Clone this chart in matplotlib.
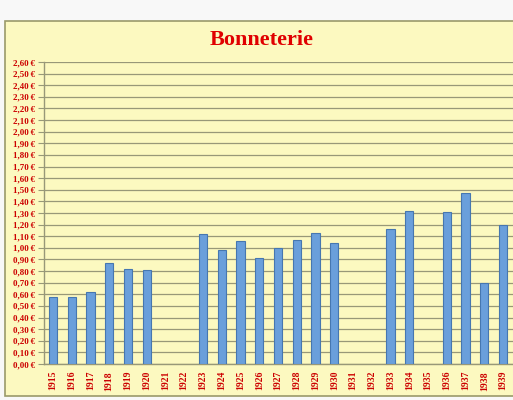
import matplotlib
matplotlib.use("Agg")
import matplotlib.pyplot as plt
from matplotlib.patches import Rectangle
import numpy as np

years = [str(y) for y in range(1915, 1940)]
values = [0.58, 0.58, 0.62, 0.87, 0.82, 0.81, np.nan, np.nan, 1.12, 0.98,
          1.06, 0.91, 1.00, 1.07, 1.13, 1.04, np.nan, np.nan, 1.16, 1.32,
          np.nan, 1.31, 1.47, 0.70, 1.20]
yticks = [i / 10 for i in range(0, 27)]
ytick_labels = [f"{v:.2f}".replace(".", ",") + "\u2009€" for v in yticks]
title = "Bonneterie"

W, H = 513, 400
fig = plt.figure(figsize=(W / 100, H / 100), dpi=100)
fig.patch.set_facecolor("#F8F8F8")

# chart frame
fig.patches.append(Rectangle((5 / W, 4 / H), 1.2, (396 - 21) / H,
                             transform=fig.transFigure, facecolor="#FCF9C0",
                             edgecolor="#9A9A6A", linewidth=1.2, zorder=-5))

ax = fig.add_axes([43.5 / W, (H - 364) / H, (512.5 - 43.5) / W, (364 - 62) / H])
ax.set_zorder(2)
ax.patch.set_alpha(0)
x = np.arange(len(years))
ax.bar(x, values, width=0.44, color="#6A9FDB", edgecolor="#4677B0", linewidth=0.8, zorder=3)
ax.set_xlim(-0.5, len(years) - 0.5)
ax.set_ylim(0, 2.6)
ax.set_yticks(yticks)
ax.set_yticklabels(ytick_labels)
ax.set_xticks(x)
ax.set_xticklabels(years, rotation=90)
ax.grid(axis="y", color="#989878", linewidth=0.9, zorder=0)
ax.set_axisbelow(True)
for s in ["top", "right"]:
    ax.spines[s].set_visible(False)
for s in ["left", "bottom"]:
    ax.spines[s].set_color("#989878")
    ax.spines[s].set_linewidth(1.0)
ax.tick_params(axis="y", length=4, color="#989878", pad=2)
ax.tick_params(axis="x", length=0, pad=5)
for lab in ax.get_yticklabels() + ax.get_xticklabels():
    lab.set_fontfamily(["Liberation Serif", "DejaVu Serif"])
    lab.set_fontweight("bold")
    lab.set_color("#CC0000")
    lab.set_fontsize(6.5)
for lab in ax.get_xticklabels():
    lab.set_fontsize(7)

fig.text(262 / W, 1 - 40 / H, title, ha="center", va="center",
         fontfamily="Liberation Serif", fontweight="bold", fontsize=16,
         color="#E00000")

fig.savefig("out.png", dpi=100, facecolor=fig.get_facecolor())
